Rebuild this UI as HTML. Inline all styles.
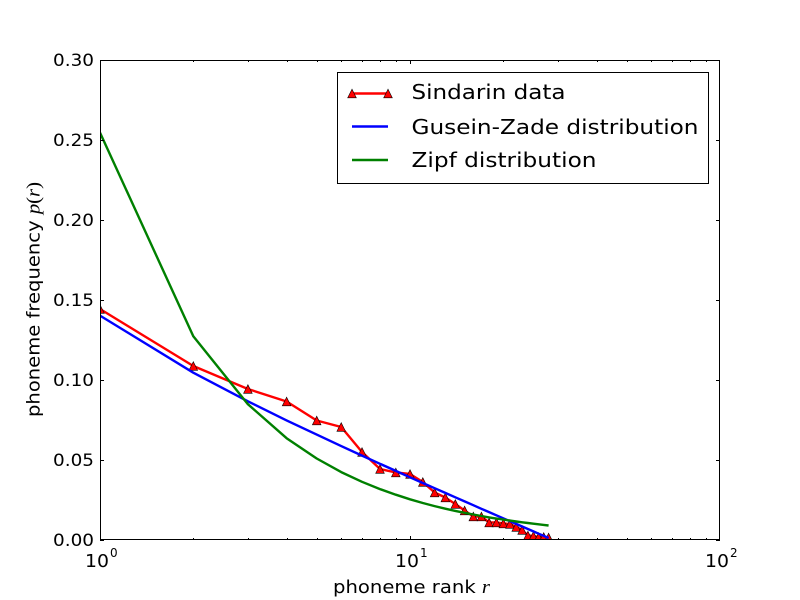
<!DOCTYPE html>
<html><head><meta charset="utf-8"><style>
html,body{margin:0;padding:0;background:#fff;}
svg{display:block;}
text{font-family:"DejaVu Sans","Liberation Sans",sans-serif;fill:#000;}
.m{font-family:"Liberation Serif","DejaVu Serif",serif;font-style:italic;}
.p{font-family:"Liberation Serif","DejaVu Serif",serif;}
</style></head><body>
<svg width="800" height="600" viewBox="0 0 800 600" xmlns="http://www.w3.org/2000/svg">
<rect x="0" y="0" width="800" height="600" fill="#fff"/>
<defs>
<clipPath id="c"><rect x="100" y="60" width="620" height="480"/></clipPath>
<path id="t" d="M0,-4.3 L-4.3,4.3 L4.3,4.3 Z" fill="#ff0000" stroke="#000" stroke-width="0.6"/>
</defs>
<rect x="100" y="60" width="620" height="480" fill="#fff"/>
<g clip-path="url(#c)">
<polyline fill="none" stroke="#ff0000" stroke-width="2.4" stroke-linejoin="round" points="100,309 193.3,366 247.9,389 286.6,401.5 316.7,420.5 341.2,427 362,452 380,469 395.8,472.5 410,474 422.8,482 434.6,492.5 445.3,497.5 455.3,504 464.6,510.5 473.3,516.5 481.4,516.5 489.1,522.5 496.4,522.5 503.3,523.5 509.9,524 516.2,527 522.1,530 527.9,535.5 533.4,536 538.6,537 543.7,537 548.6,537.5"/>
<use href="#t" x="100" y="309"/><use href="#t" x="193.3" y="366"/><use href="#t" x="247.9" y="389"/><use href="#t" x="286.6" y="401.5"/><use href="#t" x="316.7" y="420.5"/><use href="#t" x="341.2" y="427"/><use href="#t" x="362" y="452"/><use href="#t" x="380" y="469"/><use href="#t" x="395.8" y="472.5"/><use href="#t" x="410" y="474"/><use href="#t" x="422.8" y="482"/><use href="#t" x="434.6" y="492.5"/><use href="#t" x="445.3" y="497.5"/><use href="#t" x="455.3" y="504"/><use href="#t" x="464.6" y="510.5"/><use href="#t" x="473.3" y="516.5"/><use href="#t" x="481.4" y="516.5"/><use href="#t" x="489.1" y="522.5"/><use href="#t" x="496.4" y="522.5"/><use href="#t" x="503.3" y="523.5"/><use href="#t" x="509.9" y="524"/><use href="#t" x="516.2" y="527"/><use href="#t" x="522.1" y="530"/><use href="#t" x="527.9" y="535.5"/><use href="#t" x="533.4" y="536"/><use href="#t" x="538.6" y="537"/><use href="#t" x="543.7" y="537"/><use href="#t" x="548.6" y="537.5"/>
<polyline fill="none" stroke="#0000ff" stroke-width="2.4" stroke-linejoin="round" points="100,315.6 193.3,372.7 247.9,401.3 286.6,420.4 316.7,434.6 341.2,446.1 362,455.6 380,463.8 395.8,470.9 410,477.3 422.8,483 434.6,488.2 445.3,492.9 455.3,497.3 464.6,501.4 473.3,505.2 481.4,508.8 489.1,512.1 496.4,515.3 503.3,518.3 509.9,521.2 516.2,523.9 522.1,526.5 527.9,529 533.4,531.4 538.6,533.7 543.7,535.8 548.6,538"/>
<polyline fill="none" stroke="#008000" stroke-width="2.4" stroke-linejoin="round" points="100,132.6 193.3,336.3 247.9,404.2 286.6,438.2 316.7,458.5 341.2,472.1 362,481.8 380,489.1 395.8,494.7 410,499.3 422.8,503 434.6,506.1 445.3,508.7 455.3,510.9 464.6,512.8 473.3,514.5 481.4,516 489.1,517.4 496.4,518.6 503.3,519.6 509.9,520.6 516.2,521.5 522.1,522.3 527.9,523 533.4,523.7 538.6,524.3 543.7,524.9 548.6,525.5"/>
</g>
<rect x="100.5" y="60.5" width="619" height="479" fill="none" stroke="#000" stroke-width="1"/>
<g stroke="#000" stroke-width="1">
<path d="M100,540.5h4M100,460.5h4M100,380.5h4M100,300.5h4M100,220.5h4M100,140.5h4M100,60.5h4"/>
<path d="M720,540.5h-4M720,460.5h-4M720,380.5h-4M720,300.5h-4M720,220.5h-4M720,140.5h-4M720,60.5h-4"/>
<path d="M410.5,540v-4M410.5,60v4M100.5,540v-4M719.5,540v-4"/>
<path d="M193.5,540v-2M248.5,540v-2M287.5,540v-2M317.5,540v-2M341.5,540v-2M362.5,540v-2M380.5,540v-2M396.5,540v-2M503.5,540v-2M558.5,540v-2M597.5,540v-2M627.5,540v-2M651.5,540v-2M672.5,540v-2M690.5,540v-2M706.5,540v-2"/>
<path d="M193.5,60v2M248.5,60v2M287.5,60v2M317.5,60v2M341.5,60v2M362.5,60v2M380.5,60v2M396.5,60v2M503.5,60v2M558.5,60v2M597.5,60v2M627.5,60v2M651.5,60v2M672.5,60v2M690.5,60v2M706.5,60v2"/>
</g>
<g font-size="17" text-anchor="end">
<text x="94" y="546" textLength="41" lengthAdjust="spacingAndGlyphs">0.00</text>
<text x="94" y="466" textLength="41" lengthAdjust="spacingAndGlyphs">0.05</text>
<text x="94" y="386" textLength="41" lengthAdjust="spacingAndGlyphs">0.10</text>
<text x="94" y="306" textLength="41" lengthAdjust="spacingAndGlyphs">0.15</text>
<text x="94" y="226" textLength="41" lengthAdjust="spacingAndGlyphs">0.20</text>
<text x="94" y="146" textLength="41" lengthAdjust="spacingAndGlyphs">0.25</text>
<text x="94" y="66" textLength="41" lengthAdjust="spacingAndGlyphs">0.30</text>
</g>
<g font-size="17.5">
<text x="85" y="567" textLength="24" lengthAdjust="spacingAndGlyphs">10</text><text x="110" y="557" font-size="12">0</text>
<text x="395" y="567" textLength="24" lengthAdjust="spacingAndGlyphs">10</text><text x="420" y="557" font-size="12">1</text>
<text x="705" y="567" textLength="24" lengthAdjust="spacingAndGlyphs">10</text><text x="730" y="557" font-size="12">2</text>
</g>
<text x="333" y="593" font-size="18" textLength="157" lengthAdjust="spacingAndGlyphs">phoneme rank <tspan class="m" font-size="19">r</tspan></text>
<text transform="translate(39.5,417) rotate(-90)" font-size="18" textLength="235" lengthAdjust="spacingAndGlyphs">phoneme frequency <tspan class="m" font-size="19">p</tspan><tspan class="p" font-size="19">(</tspan><tspan class="m" font-size="19">r</tspan><tspan class="p" font-size="19">)</tspan></text>
<rect x="337.5" y="72.5" width="371" height="111" fill="#fff" stroke="#000" stroke-width="1"/>
<line x1="352" y1="93.5" x2="388" y2="93.5" stroke="#ff0000" stroke-width="2.4"/>
<use href="#t" x="352" y="93.5"/><use href="#t" x="388" y="93.5"/>
<line x1="352" y1="126.5" x2="388" y2="126.5" stroke="#0000ff" stroke-width="2.4"/>
<line x1="352" y1="160" x2="388" y2="160" stroke="#008000" stroke-width="2.4"/>
<g font-size="20.5">
<text x="411.5" y="99" textLength="154" lengthAdjust="spacingAndGlyphs">Sindarin data</text>
<text x="411.5" y="134" textLength="287" lengthAdjust="spacingAndGlyphs">Gusein-Zade distribution</text>
<text x="411.5" y="167" textLength="185" lengthAdjust="spacingAndGlyphs">Zipf distribution</text>
</g>
</svg>
</body></html>
